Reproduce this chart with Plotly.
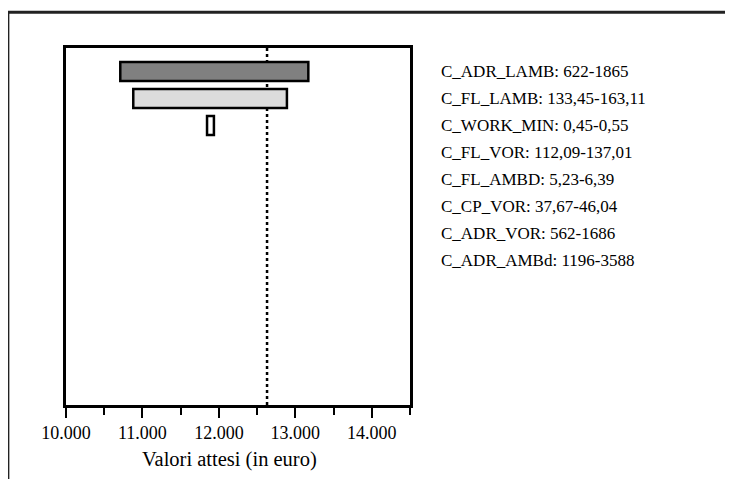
import plotly.graph_objects as go

# tornado diagram: range of expected value per variable
variabili = ["C_ADR_LAMB: 622-1865", "C_FL_LAMB: 133,45-163,11", "C_WORK_MIN: 0,45-0,55",
             "C_FL_VOR: 112,09-137,01", "C_FL_AMBD: 5,23-6,39", "C_CP_VOR: 37,67-46,04",
             "C_ADR_VOR: 562-1686", "C_ADR_AMBd: 1196-3588"]
val_min = [10710, 10880, 11845, 12630, 12630, 12630, 12630, 12630]
val_max = [13170, 12890, 11935, 12630, 12630, 12630, 12630, 12630]
colori = ["#808080", "#dcdcdc", "#ffffff", "#ffffff", "#ffffff", "#ffffff", "#ffffff", "#ffffff"]
valore_atteso = 12630
tick_vals = [10000, 11000, 12000, 13000, 14000]
tick_text = ["10.000", "11.000", "12.000", "13.000", "14.000"]
titolo_x = "Valori attesi (in euro)"

SERIF = "Liberation Serif"

righe = list(range(len(variabili)))
larghezze = [b - a for a, b in zip(val_min, val_max)]
bordi = [2.5 if w > 0 else 0 for w in larghezze]

fig = go.Figure()
fig.add_trace(go.Bar(y=righe, x=larghezze, base=val_min, orientation="h", width=0.7,
                     marker=dict(color=colori, line=dict(color="black", width=bordi)),
                     showlegend=False, hoverinfo="skip"))

# linea tratteggiata del valore atteso
fig.add_shape(type="line", xref="x", yref="paper", x0=valore_atteso, x1=valore_atteso,
              y0=0, y1=1, line=dict(color="black", width=2.5, dash="dot"), layer="below")

# etichette a destra
for i, t in enumerate(variabili):
    fig.add_annotation(x=1.083, xref="paper", y=i, yref="y", text=t, showarrow=False,
                       xanchor="left", font=dict(family=SERIF, size=17, color="black"))

# titolo asse x (leggermente a sinistra del centro, come nell'originale)
fig.add_annotation(x=0.475, y=-0.152, xref="paper", yref="paper", text=titolo_x, showarrow=False,
                   xanchor="center", yanchor="middle", font=dict(family=SERIF, size=20.5, color="black"))

# cornice esterna
fig.add_shape(type="line", xref="paper", yref="paper", x0=-0.169, x1=2.5, y0=1.1, y1=1.1,
              line=dict(color="#222", width=3))
fig.add_shape(type="line", xref="paper", yref="paper", x0=-0.169, x1=-0.169, y0=-0.5, y1=1.1,
              line=dict(color="#222", width=3))

fig.update_xaxes(range=[10000, 14500], tickvals=tick_vals, ticktext=tick_text,
                 ticks="outside", ticklen=10, tickwidth=2, tickcolor="black",
                 minor=dict(dtick=500, tick0=10000, ticks="outside", ticklen=7, tickwidth=2, tickcolor="black"),
                 showline=True, mirror=True, linewidth=2.5, linecolor="black", showgrid=False, zeroline=False,
                 tickfont=dict(family=SERIF, size=18, color="black"))
fig.update_yaxes(range=[12.35, -0.87], showticklabels=False, ticks="", showgrid=False, zeroline=False,
                 showline=True, mirror=True, linewidth=2.5, linecolor="black")

fig.update_layout(width=725, height=471, margin=dict(l=58, r=323, t=40, b=74),
                  plot_bgcolor="white", paper_bgcolor="white", font=dict(family=SERIF))
fig.write_html("out.html")
